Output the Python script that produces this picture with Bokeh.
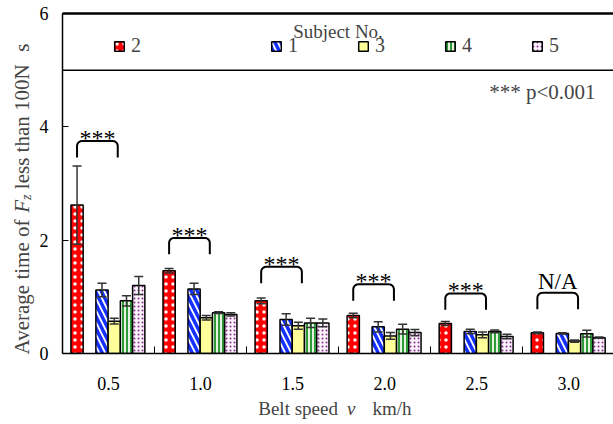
import numpy as np
from bokeh.plotting import figure
from bokeh.layouts import row, column
from bokeh.models import (ColumnDataSource, Whisker, TeeHead, FixedTicker, Legend,
                          LegendItem, Label, Span, LinearAxis)
from bokeh.core.properties import value
from bokeh.embed import file_html
from bokeh.resources import INLINE

# ---------------- data ----------------
speeds = ["0.5", "1.0", "1.5", "2.0", "2.5", "3.0"]
subject_labels = ["2", "1", "3", "4", "5"]
mean_s2 = [2.62, 1.46, 0.93, 0.67, 0.53, 0.365]
err_s2 = [0.69, 0.04, 0.05, 0.04, 0.035, 0.015]
mean_s1 = [1.12, 1.14, 0.60, 0.47, 0.39, 0.355]
err_s1 = [0.12, 0.10, 0.10, 0.09, 0.04, 0.012]
mean_s3 = [0.57, 0.63, 0.49, 0.31, 0.33, 0.22]
err_s3 = [0.05, 0.04, 0.06, 0.06, 0.05, 0.02]
mean_s4 = [0.93, 0.72, 0.54, 0.43, 0.39, 0.35]
err_s4 = [0.09, 0.015, 0.08, 0.085, 0.025, 0.06]
mean_s5 = [1.20, 0.69, 0.54, 0.37, 0.30, 0.28]
err_s5 = [0.16, 0.03, 0.07, 0.055, 0.04, 0.012]
bracket_top = [3.75, 2.04, 1.53, 1.22, 1.06, 1.07]
sig_text = ["***", "***", "***", "***", "***", "N/A"]
y_ticks = [0, 2, 4, 6]

means = [mean_s2, mean_s1, mean_s3, mean_s4, mean_s5]
errs = [err_s2, err_s1, err_s3, err_s4, err_s5]

# ---------------- layout / style ----------------
FONT = "Liberation Serif"
W, H = 613, 424
LEFT_W = 36          # width of the strip holding the y title
BOT_H = 28           # height of the strip holding the x title
PW, PH = W - LEFT_W, H - BOT_H
BL, BR, BT, BB = 60 - LEFT_W, 0, 13, PH - 353
X_END = 5.985
Y_END = 6
PXX = (PW - BL - BR) / X_END
PXY = (PH - BT - BB) / Y_END

p = figure(width=PW, height=PH, x_range=(0, X_END), y_range=(0, Y_END),
           output_backend="svg", toolbar_location=None,
           min_border_left=BL, min_border_right=BR,
           min_border_top=BT, min_border_bottom=BB)
p.xgrid.visible = False
p.ygrid.visible = False
p.outline_line_color = None
p.background_fill_color = "white"
p.border_fill_color = "white"

styles = [
    dict(fill_color="#ff0000", hatch_pattern="dot", hatch_color="white",
         hatch_scale=7, hatch_weight=2),
    dict(fill_color="white", hatch_pattern="left_diagonal_line", hatch_color="#1430ff",
         hatch_scale=12, hatch_weight=3.5),
    dict(fill_color="#ffff99"),
    dict(fill_color="#e6f4df", hatch_pattern="vertical_line", hatch_color="#2f9a3a",
         hatch_scale=4, hatch_weight=2),
    dict(fill_color="#fbf3fb", hatch_pattern="dot", hatch_color="#8b2c8b",
         hatch_scale=4, hatch_weight=1.6),
]
offsets = [-0.342, -0.071, 0.062, 0.195, 0.328]
BAR_W = 0.133
centers = np.arange(len(speeds)) + 0.5

renderers = []
for k in range(5):
    m = np.array(means[k])
    e = np.array(errs[k])
    src = ColumnDataSource(dict(x=centers + offsets[k], top=m, upper=m + e, lower=m - e))
    r = p.vbar(x="x", top="top", width=BAR_W, source=src, line_color="black",
               line_width=1.5, **styles[k])
    renderers.append(r)
    wh = Whisker(source=src, base="x", upper="upper", lower="lower", level="annotation",
                 line_color="#333333", line_width=1.5,
                 upper_head=TeeHead(size=9, line_color="#333333", line_width=1.5),
                 lower_head=TeeHead(size=9, line_color="#333333", line_width=1.5))
    p.add_layout(wh)

# ---------------- axes ----------------
p.xaxis.ticker = FixedTicker(ticks=list(centers), minor_ticks=list(np.arange(1, len(speeds))))
p.xaxis.major_label_overrides = {float(c): s for c, s in zip(centers, speeds)}
p.xaxis.major_tick_line_color = None
p.xaxis.minor_tick_in = 7
p.xaxis.minor_tick_out = 0
p.xaxis.minor_tick_line_color = "black"
p.xaxis.minor_tick_line_width = 1
p.xaxis.major_label_standoff = 17
p.yaxis.ticker = FixedTicker(ticks=y_ticks)
p.yaxis.major_tick_in = 6
p.yaxis.major_tick_out = 0
p.yaxis.minor_tick_line_color = None
p.yaxis.major_label_standoff = 14
for ax in (p.xaxis, p.yaxis):
    ax.axis_line_color = "black"
    ax.axis_line_width = 1.5
    ax.major_label_text_font = FONT
    ax.major_label_text_font_size = "18px"
    ax.major_label_text_color = "black"

# top border (axis line only) and legend divider
top_axis = LinearAxis(ticker=FixedTicker(ticks=[]), axis_line_color="black",
                      axis_line_width=2.5, major_tick_line_color=None,
                      minor_tick_line_color=None, major_label_text_font_size="0px")
p.add_layout(top_axis, "above")
p.add_layout(Span(location=5, dimension="width", line_color="black", line_width=1.5))

# ---------------- legend ----------------
leg_common = dict(orientation="horizontal", glyph_width=12, glyph_height=12,
                  label_standoff=6, label_text_font=FONT, label_text_font_size="20px",
                  label_height=20, padding=0, margin=0, border_line_color=None,
                  background_fill_alpha=0)
legA = Legend(items=[LegendItem(label=subject_labels[0], renderers=[renderers[0]])],
              location=(51, 296), **leg_common)
legB = Legend(items=[LegendItem(label=subject_labels[k], renderers=[renderers[k]])
                     for k in range(1, 5)],
              location=(208, 296), label_width=55, spacing=14, **leg_common)
p.add_layout(legA)
p.add_layout(legB)
p.add_layout(Label(x=X_END / 2, y=5.69, text="Subject No.", text_font=FONT,
                   text_font_size="19px", text_align="center", text_baseline="middle"))

# ---------------- significance brackets ----------------
XL, XR, DEPTH = -0.342, 0.10, 0.29
rx, ry = 5 / PXX, 5 / PXY
t1 = np.linspace(np.pi, np.pi / 2, 7)
t2 = np.linspace(np.pi / 2, 0, 7)
bxs, bys = [], []
for c, top in zip(centers, bracket_top):
    xl, xr = c + XL, c + XR
    xs = [xl] + list(xl + rx + rx * np.cos(t1)) + list(xr - rx + rx * np.cos(t2)) + [xr]
    ys = [top - DEPTH] + list(top - ry + ry * np.sin(t1)) + list(top - ry + ry * np.sin(t2)) + [top - DEPTH]
    bxs.append(xs)
    bys.append(ys)
p.multi_line(xs=bxs, ys=bys, line_color="black", line_width=2)

star_idx = [i for i, s in enumerate(sig_text) if s == "***"]
na_idx = [i for i, s in enumerate(sig_text) if s != "***"]
mid = (XL + XR) / 2
p.text(x=[centers[i] + mid for i in star_idx], y=[bracket_top[i] for i in star_idx],
       text=[sig_text[i] for i in star_idx], text_font=value(FONT), text_font_size="24px",
       text_align="center", text_baseline="middle", y_offset=-3)
p.text(x=[centers[i] + mid for i in na_idx], y=[bracket_top[i] for i in na_idx],
       text=[sig_text[i] for i in na_idx], text_font=value(FONT), text_font_size="23px",
       text_align="center", text_baseline="middle", y_offset=-11)

p.add_layout(Label(x=5.79, y=4.61, text="*** p<0.001", text_font=FONT,
                   text_font_size="21px", text_align="right", text_baseline="middle"))

# ---------------- axis titles (mixed styles) in side strips ----------------
WID = {" ": 250, "A": 722, "N": 722, "a": 444, "e": 444, "f": 333, "g": 500, "h": 500,
       "i": 278, "l": 278, "m": 778, "n": 500, "o": 500, "r": 333, "s": 389, "t": 278,
       "v": 500, "0": 500, "1": 500, "F": 611, "z": 389}


def tw(s, size):
    return sum(WID.get(ch, 500) for ch in s) / 1000 * size


def strip(w, h):
    f = figure(width=w, height=h, x_range=(0, w), y_range=(0, h),
               x_axis_location=None, y_axis_location=None,
               output_backend="svg", toolbar_location=None,
               min_border=0, min_border_left=0, min_border_right=0,
               min_border_top=0, min_border_bottom=0)
    f.grid.visible = False
    f.outline_line_color = None
    f.background_fill_color = "white"
    f.border_fill_color = "white"
    return f


left = strip(LEFT_W, H)
YF = 21
ypieces = [("Average time of", "normal", YF, 0, 0.25 * YF),
           ("F", "italic", YF, 0, 0),
           ("z", "italic", 14, 5, 0.25 * YF),
           ("less than 100N", "normal", YF, 0, 0.6 * YF),
           ("s", "normal", YF, 0, 0)]
total = sum(tw(s, sz) + gap for s, _, sz, _, gap in ypieces)
y_center = H - 198.5
pos = y_center - total / 2
for s, style, sz, shift, gap in ypieces:
    left.add_layout(Label(x=21 + shift, y=pos, text=s, angle=np.pi / 2,
                          text_font=FONT, text_font_style=style, text_font_size=f"{sz}px",
                          text_align="left", text_baseline="middle"))
    pos += tw(s, sz) + gap

bottom = strip(PW, BOT_H)
xpieces = [("Belt speed", "normal", 241), ("v", "italic", 334), ("km/h", "normal", 360.5)]
for s, style, xpx in xpieces:
    bottom.add_layout(Label(x=xpx - LEFT_W, y=BOT_H - 12, text=s, text_font=FONT,
                            text_font_style=style, text_font_size="19px",
                            text_align="left", text_baseline="middle"))

layout = row(left, column(p, bottom, spacing=0), spacing=0)
open("out.html", "w").write(file_html(layout, INLINE))
